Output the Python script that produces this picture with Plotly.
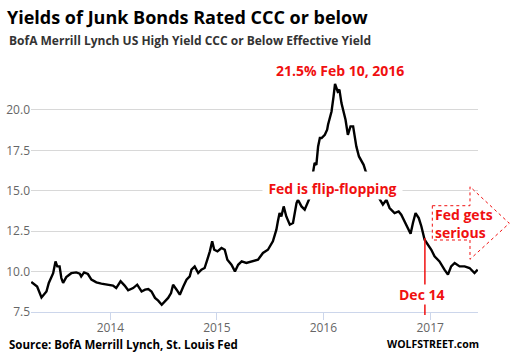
import plotly.graph_objects as go

dates = [
    "2013-04-05", "2013-04-17", "2013-04-25", "2013-05-10", "2013-05-18", "2013-05-27",
    "2013-06-04", "2013-06-13", "2013-06-19", "2013-06-27", "2013-07-03", "2013-07-11",
    "2013-07-17", "2013-07-23", "2013-08-03", "2013-08-20", "2013-09-06", "2013-09-18",
    "2013-09-23", "2013-10-03", "2013-10-16", "2013-10-28", "2013-11-14", "2013-12-01",
    "2013-12-24", "2014-01-10", "2014-01-21", "2014-02-05", "2014-02-19", "2014-03-03",
    "2014-03-20", "2014-04-03", "2014-04-18", "2014-04-30", "2014-05-11", "2014-05-22",
    "2014-06-03", "2014-06-14", "2014-06-26", "2014-07-07", "2014-07-18", "2014-07-28",
    "2014-08-04", "2014-08-16", "2014-08-27", "2014-09-08", "2014-09-19", "2014-09-30",
    "2014-10-06", "2014-10-17", "2014-10-29", "2014-11-09", "2014-11-20", "2014-11-29",
    "2014-12-08", "2014-12-16", "2014-12-23", "2015-01-03", "2015-01-17", "2015-01-28",
    "2015-02-06", "2015-02-20", "2015-03-04", "2015-03-15", "2015-03-27", "2015-04-12",
    "2015-05-05", "2015-05-22", "2015-06-08", "2015-06-25", "2015-07-12", "2015-07-24",
    "2015-07-29", "2015-08-04", "2015-08-10", "2015-08-18", "2015-08-27", "2015-09-08",
    "2015-09-19", "2015-10-01", "2015-10-06", "2015-10-18", "2015-10-29", "2015-11-09",
    "2015-11-15", "2015-11-20", "2015-11-26", "2015-12-02", "2015-12-08", "2015-12-14",
    "2015-12-20", "2015-12-26", "2016-01-06", "2016-01-14", "2016-01-17", "2016-01-23",
    "2016-01-29", "2016-02-05", "2016-02-10", "2016-02-19", "2016-02-25", "2016-03-03",
    "2016-03-11", "2016-03-17", "2016-03-25", "2016-04-03", "2016-04-12", "2016-04-17",
    "2016-04-23", "2016-05-02", "2016-05-10", "2016-05-18", "2016-05-25", "2016-06-08",
    "2016-06-25", "2016-07-12", "2016-07-23", "2016-08-04", "2016-08-15", "2016-09-01",
    "2016-09-15", "2016-09-24", "2016-10-05", "2016-10-17", "2016-10-26", "2016-11-03",
    "2016-11-12", "2016-11-23", "2016-12-02", "2016-12-13", "2016-12-24", "2017-01-05",
    "2017-01-16", "2017-02-02", "2017-02-19", "2017-03-03", "2017-03-14", "2017-03-26",
    "2017-04-12", "2017-04-29", "2017-05-16", "2017-06-02", "2017-06-13",
]

yields = [
    9.36, 9.19, 9.08, 8.40, 8.60, 8.77,
    9.30, 9.70, 9.90, 10.63, 10.32, 10.32,
    9.60, 9.30, 9.66, 9.90, 9.95, 9.87,
    9.70, 9.95, 9.85, 9.50, 9.33, 9.25,
    9.19, 9.13, 8.98, 9.40, 9.13, 8.84,
    8.98, 9.19, 8.77, 8.88, 8.92, 8.77,
    8.37, 8.20, 7.95, 8.16, 8.37, 8.67,
    9.19, 8.88, 8.57, 9.08, 9.50, 9.70,
    10.12, 10.32, 9.91, 10.12, 10.22, 10.73,
    11.25, 11.87, 11.35, 11.25, 11.46, 11.35,
    10.73, 10.42, 10.01, 10.42, 10.63, 10.53,
    10.63, 10.73, 11.15, 11.35, 11.87, 12.59,
    13.10, 13.62, 13.41, 14.03, 13.41, 12.90,
    13.00, 14.24, 14.44, 14.03, 13.83, 14.24,
    14.55, 15.40, 16.20, 16.72, 16.60, 17.74,
    18.26, 18.26, 18.46, 18.77, 19.08, 19.50,
    19.90, 20.83, 21.60, 21.14, 21.25, 20.42,
    19.90, 19.39, 18.46, 18.98, 18.98, 18.26,
    17.74, 17.12, 16.81, 16.60, 16.20, 15.80,
    15.00, 14.44, 14.14, 14.44, 13.93, 13.62,
    13.72, 13.52, 13.10, 12.59, 12.34, 13.00,
    13.62, 13.31, 12.79, 11.97, 11.66, 11.35,
    10.94, 10.63, 10.12, 9.81, 10.32, 10.53,
    10.32, 10.32, 10.22, 9.91, 10.12,
]

y_ticks = [7.5, 10.0, 12.5, 15.0, 17.5, 20.0]
x_ticks = ["2014-01-01", "2015-01-01", "2016-01-01", "2017-01-01"]
x_tick_labels = ["2014", "2015", "2016", "2017"]

title_text = "Yields of Junk Bonds Rated CCC or below"
subtitle_text = "BofA Merrill Lynch US High Yield CCC or Below Effective Yield"
source_text = "Source: BofA Merrill Lynch, St. Louis Fed"
brand_text = "WOLFSTREET.com"
peak_text = "21.5% Feb 10, 2016"
fed_flip_text = "Fed is flip-flopping"
fed_serious_text = "Fed gets<br>serious"
dec14_date = "2016-12-14"
dec14_text = "Dec 14"

FONT = "Open Sans, Noto Sans, sans-serif"
RED = "#f01010"

fig = go.Figure()
fig.add_trace(go.Scatter(
    x=dates, y=yields, mode="lines",
    line=dict(color="#000000", width=2.4),
    hoverinfo="skip", showlegend=False,
))

W, H = 510, 362
L, R, T, B = 31, 32, 60, 50
PW, PH = W - L - R, H - T - B


def px(x):
    return (x - L) / PW


def py(y):
    return (H - B - y) / PH


# arrow "Fed gets serious"
pts = [(432.3, 205.7), (470, 205.7), (470, 186.7), (509.3, 223.3),
       (470, 259.3), (470, 240), (432.3, 240)]
path = "M " + " L ".join(f"{px(a):.4f},{py(b):.4f}" for a, b in pts) + " Z"

shapes = [
    dict(type="path", xref="paper", yref="paper", path=path,
         fillcolor="white", line=dict(color=RED, width=1, dash="dot"), layer="above"),
    dict(type="line", xref="x", yref="paper", x0=dec14_date, x1=dec14_date,
         y0=py(315), y1=py(238), line=dict(color=RED, width=1.5), layer="above"),
]

annotations = [
    dict(text=f"<b>{title_text}</b>", xref="paper", yref="paper", x=px(5), y=py(17),
         xanchor="left", yanchor="middle", showarrow=False,
         font=dict(family=FONT, size=18, color="#000000")),
    dict(text=f"<b>{subtitle_text}</b>", xref="paper", yref="paper", x=px(6.5), y=py(40),
         xanchor="left", yanchor="middle", showarrow=False,
         font=dict(family=FONT, size=12, color="#333333")),
    dict(text=f"<b>{source_text}</b>", xref="paper", yref="paper", x=px(6.5), y=py(344),
         xanchor="left", yanchor="middle", showarrow=False,
         font=dict(family=FONT, size=11.5, color="#000000")),
    dict(text=f"<b>{brand_text}</b>", xref="paper", yref="paper", x=px(481), y=py(344),
         xanchor="right", yanchor="middle", showarrow=False,
         font=dict(family=FONT, size=10.5, color="#000000")),
    dict(text=f"<b>{peak_text}</b>", xref="paper", yref="paper", x=px(340), y=py(71),
         xanchor="center", yanchor="middle", showarrow=False,
         font=dict(family=FONT, size=14, color=RED)),
    dict(text=f"<b>{fed_flip_text}</b>", xref="paper", yref="paper", x=px(332.5), y=py(185.5),
         xanchor="center", yanchor="middle", showarrow=False, width=137, height=25,
         valign="bottom", bgcolor="white", borderpad=1,
         font=dict(family=FONT, size=14, color=RED)),
    dict(text=f"<b>{dec14_text}</b>", xref="paper", yref="paper", x=px(421.3), y=py(294.5),
         xanchor="center", yanchor="middle", showarrow=False, bgcolor="white", borderpad=0,
         font=dict(family=FONT, size=14, color=RED)),
    dict(text=f"<b>{fed_serious_text}</b>", xref="paper", yref="paper", x=px(433), y=py(223.5),
         xanchor="left", yanchor="middle", align="left", showarrow=False,
         font=dict(family=FONT, size=14, color=RED)),
]

fig.update_layout(
    width=W, height=H,
    margin=dict(l=L, r=R, t=T, b=B, pad=0, autoexpand=False),
    paper_bgcolor="white", plot_bgcolor="white",
    font=dict(family=FONT, size=12, color="#666666"),
    showlegend=False, hovermode=False,
    shapes=shapes, annotations=annotations,
    xaxis=dict(
        type="date", range=["2013-04-04", "2017-06-14"], automargin=False,
        tickvals=x_ticks, ticktext=x_tick_labels,
        ticks="outside", ticklen=7, tickcolor="#ccd6eb", tickwidth=1,
        ticklabelstandoff=-2,
        showline=True, linecolor="#ccd6eb", linewidth=1,
        showgrid=False, zeroline=False,
        tickfont=dict(family=FONT, size=12, color="#666666"),
    ),
    yaxis=dict(
        range=[7.5, 7.5 + PH / 16.17], automargin=False,
        tickvals=y_ticks, ticktext=[f"{v:.1f}" for v in y_ticks],
        showgrid=True, gridcolor="#d8d8d8", gridwidth=1,
        zeroline=False, showline=False, ticks="",
        tickfont=dict(family=FONT, size=12, color="#666666"),
    ),
)

fig.write_html(
    "out.html",
    config={"displayModeBar": False},
    post_script="document.body.style.margin='0';document.body.style.padding='0';",
)
